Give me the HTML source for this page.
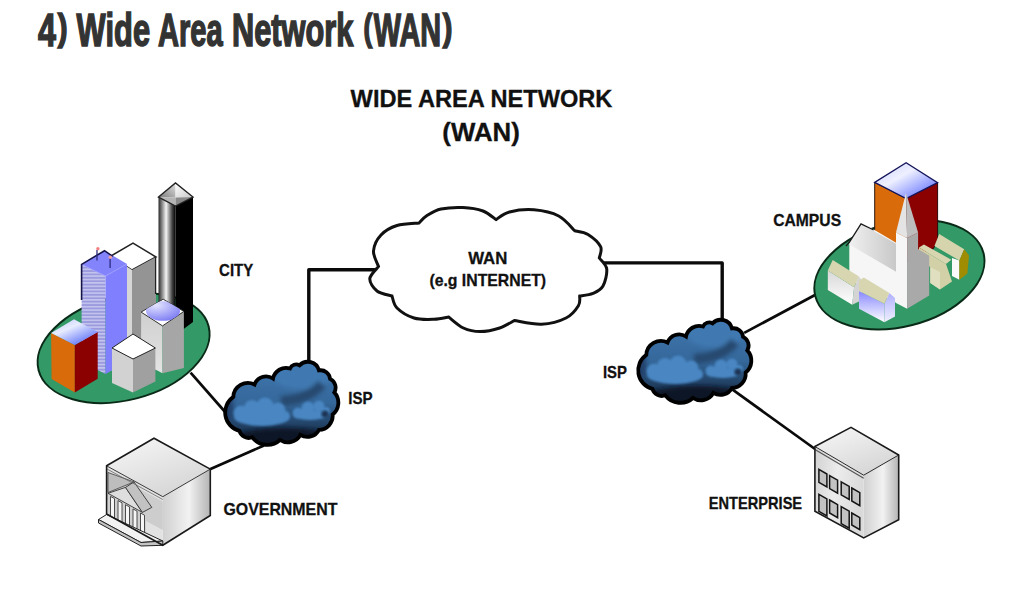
<!DOCTYPE html>
<html><head><meta charset="utf-8">
<style>
html,body{margin:0;padding:0;background:#fff;width:1024px;height:589px;overflow:hidden}
svg{display:block}
text{font-family:"Liberation Sans",sans-serif;font-weight:bold}
</style></head><body>
<svg width="1024" height="589" viewBox="0 0 1024 589">
<defs>
<linearGradient id="ispg" x1="0" y1="0" x2="0" y2="1">
<stop offset="0" stop-color="#4078b0"/><stop offset="0.5" stop-color="#35679a"/><stop offset="1" stop-color="#0f1f33"/>
</linearGradient>
<radialGradient id="blob" cx="0.5" cy="0.5" r="0.5">
<stop offset="0" stop-color="#5a94cc"/><stop offset="0.7" stop-color="#4c86bf"/><stop offset="1" stop-color="#4c86bf" stop-opacity="0"/>
</radialGradient>
<radialGradient id="dark" cx="0.5" cy="0.5" r="0.5">
<stop offset="0" stop-color="#0e1c2c"/><stop offset="1" stop-color="#0e1c2c" stop-opacity="0"/>
</radialGradient>
<filter id="soft" x="-20%" y="-20%" width="140%" height="140%"><feGaussianBlur stdDeviation="0.9"/></filter>
<filter id="soft2" x="-20%" y="-20%" width="140%" height="140%"><feGaussianBlur stdDeviation="2.2"/></filter>
<clipPath id="ispclip"><path d="M233.3,396.9 A14.65,14.65 0 0 1 254.5,384.5 A12.27,12.27 0 0 1 273.0,378.5 A13.38,13.38 0 0 1 290.0,368.5 A6.80,6.80 0 0 1 299.5,365.3 A11.59,11.59 0 0 1 319.0,370.4 A9.48,9.48 0 0 1 330.1,378.9 A9.59,9.59 0 0 1 334.3,392.4 A15.03,15.03 0 0 1 332.6,414.5 A13.88,13.88 0 0 1 319.0,429.8 A13.08,13.08 0 0 1 300.4,434.9 A14.26,14.26 0 0 1 280.0,440.0 A18.87,18.87 0 0 1 252.3,437.3 A9.80,9.80 0 0 1 239.4,430.8 A18.95,18.95 0 0 1 233.3,396.9Z"/></clipPath>
<linearGradient id="blk" x1="0" y1="0" x2="1" y2="0">
<stop offset="0" stop-color="#2a2a2a"/><stop offset="0.45" stop-color="#f4f4f4"/><stop offset="0.8" stop-color="#444"/><stop offset="1" stop-color="#000"/>
</linearGradient>
<linearGradient id="bt1" x1="0" y1="1" x2="1" y2="0">
<stop offset="0" stop-color="#7a7a7a"/><stop offset="1" stop-color="#e0e0e0"/>
</linearGradient>
<linearGradient id="bt2" x1="0" y1="0" x2="1" y2="1">
<stop offset="0" stop-color="#ffffff"/><stop offset="1" stop-color="#c8c8c8"/>
</linearGradient>
<linearGradient id="bluetop" x1="0" y1="0" x2="1" y2="1">
<stop offset="0" stop-color="#ffffff"/><stop offset="1" stop-color="#5a6cff"/>
</linearGradient>
<linearGradient id="govR" x1="0" y1="0" x2="1" y2="0">
<stop offset="0" stop-color="#d0d0d0"/><stop offset="0.55" stop-color="#f2f2f2"/><stop offset="1" stop-color="#b4b4b4"/>
</linearGradient>
<linearGradient id="govT" x1="0" y1="0" x2="0.6" y2="1">
<stop offset="0" stop-color="#f8f8f8"/><stop offset="1" stop-color="#d6d6d6"/>
</linearGradient>
<linearGradient id="govL" x1="0" y1="0" x2="0" y2="1">
<stop offset="0" stop-color="#d8d8d8"/><stop offset="1" stop-color="#f0f0f0"/>
</linearGradient>
<linearGradient id="ctop" x1="0" y1="0" x2="1" y2="1">
<stop offset="0" stop-color="#c8d0ff"/><stop offset="0.4" stop-color="#eef0ff"/><stop offset="1" stop-color="#4a5cff"/>
</linearGradient>
<linearGradient id="roofg" x1="0" y1="0" x2="1" y2="0">
<stop offset="0" stop-color="#f0f0f0"/><stop offset="1" stop-color="#c8c8c8"/>
</linearGradient>
<linearGradient id="whg" x1="0" y1="0" x2="0" y2="1">
<stop offset="0" stop-color="#d8d8d8"/><stop offset="1" stop-color="#ffffff"/>
</linearGradient>
<linearGradient id="bhg" x1="0" y1="0" x2="0" y2="1">
<stop offset="0" stop-color="#8888ff"/><stop offset="1" stop-color="#ffffff"/>
</linearGradient>
<linearGradient id="bhg2" x1="0" y1="0" x2="0" y2="1">
<stop offset="0" stop-color="#b0b0ff"/><stop offset="1" stop-color="#f0f0ff"/>
</linearGradient>
<linearGradient id="entL" x1="0" y1="0" x2="1" y2="0.3">
<stop offset="0" stop-color="#d0d0d0"/><stop offset="0.5" stop-color="#ececec"/><stop offset="1" stop-color="#dadada"/>
</linearGradient>
<pattern id="stripes" x="0" y="268.5" width="10" height="3.4" patternUnits="userSpaceOnUse">
<rect width="10" height="3.4" fill="#9a9ade"/><rect y="0" width="10" height="1.6" fill="#c4c4ee"/>
</pattern>
<radialGradient id="domeg" cx="0.3" cy="0.2" r="0.9">
<stop offset="0" stop-color="#e4e4ff"/><stop offset="1" stop-color="#7878f4"/>
</radialGradient>
<linearGradient id="lfg" x1="0" y1="0" x2="0" y2="1">
<stop offset="0" stop-color="#cfcfcf"/><stop offset="1" stop-color="#e4e4e4"/>
</linearGradient>
<linearGradient id="bluetop2" x1="0.1" y1="0" x2="0.9" y2="1">
<stop offset="0" stop-color="#c0c8ff"/><stop offset="0.35" stop-color="#e8ecff"/><stop offset="1" stop-color="#4058f8"/>
</linearGradient>
</defs>

<!-- connection lines -->
<g stroke="#0a0a0a" fill="none" stroke-linejoin="round">
<polyline points="190.6,372.7 226,413" stroke-width="2.7"/>
<polyline points="209.4,469.4 264,445.5" stroke-width="2.7"/>
<polyline points="308.8,362 308.8,269.8 380,269.8" stroke-width="3.4"/>
<polyline points="598,262.9 722.2,262.9 722.2,320" stroke-width="3.4"/>
<polyline points="744.2,332.9 815,295" stroke-width="2.7"/>
<polyline points="732.6,389.6 815,449" stroke-width="2.7"/>
</g>

<!-- WAN cloud -->
<path d="M378.5,266.5 C377.7,263.9 373.1,256.2 373.5,251.0 C373.9,245.8 377.1,239.2 381.0,235.0 C384.9,230.8 390.7,227.5 397.0,225.5 C403.3,223.5 415.3,223.4 419.0,223.0 C420.3,221.8 423.3,217.8 427.0,215.5 C430.7,213.2 435.0,210.3 441.0,209.0 C447.0,207.7 456.0,207.2 463.0,207.5 C470.0,207.8 477.5,209.0 483.0,211.0 C488.5,213.0 493.8,218.2 496.0,219.6 C498.2,218.3 503.2,213.6 509.5,212.0 C515.8,210.4 525.8,209.1 534.0,209.8 C542.2,210.5 551.9,212.5 558.7,216.0 C565.5,219.5 572.0,228.2 574.7,230.7 C576.9,231.3 583.7,231.7 588.0,234.4 C592.3,237.1 598.7,242.8 600.6,246.7 C602.5,250.6 599.5,256.1 599.3,258.0 C600.5,259.8 606.1,264.1 606.7,268.8 C607.3,273.5 605.3,281.9 603.0,286.0 C600.7,290.1 596.9,291.7 593.0,293.4 C589.1,295.1 581.9,295.6 579.7,296.0 C579.5,297.6 580.7,302.0 578.4,305.7 C576.1,309.4 572.1,314.9 566.0,318.0 C559.9,321.1 550.1,323.8 541.5,324.2 C532.9,324.6 518.9,321.1 514.4,320.5 C511.9,321.8 505.4,326.1 499.7,328.0 C494.0,329.9 486.1,331.6 480.0,331.6 C473.9,331.6 468.6,330.4 463.4,328.0 C458.2,325.6 451.1,318.8 448.6,317.0 C446.2,317.4 439.7,319.1 433.9,319.3 C428.1,319.5 420.1,319.9 414.0,318.0 C407.9,316.1 400.7,311.7 397.0,308.0 C393.3,304.3 392.8,298.0 392.0,296.0 C389.5,295.2 380.7,293.9 377.0,291.0 C373.3,288.1 369.6,282.8 369.8,278.7 C370.1,274.6 377.1,268.5 378.5,266.5Z" fill="#fff" stroke="#111" stroke-width="3"/>

<!-- ISP clouds -->
<g id="isp">
<path d="M233.3,396.9 A14.65,14.65 0 0 1 254.5,384.5 A12.27,12.27 0 0 1 273.0,378.5 A13.38,13.38 0 0 1 290.0,368.5 A6.80,6.80 0 0 1 299.5,365.3 A11.59,11.59 0 0 1 319.0,370.4 A9.48,9.48 0 0 1 330.1,378.9 A9.59,9.59 0 0 1 334.3,392.4 A15.03,15.03 0 0 1 332.6,414.5 A13.88,13.88 0 0 1 319.0,429.8 A13.08,13.08 0 0 1 300.4,434.9 A14.26,14.26 0 0 1 280.0,440.0 A18.87,18.87 0 0 1 252.3,437.3 A9.80,9.80 0 0 1 239.4,430.8 A18.95,18.95 0 0 1 233.3,396.9Z" fill="url(#ispg)"/>
<g clip-path="url(#ispclip)">
<g filter="url(#soft2)">
<ellipse cx="285" cy="443" rx="60" ry="15" fill="#0c1828"/>
<ellipse cx="227" cy="405" rx="6" ry="18" fill="#22406a"/>
<ellipse cx="302" cy="376" rx="28" ry="13" fill="#4179b1"/>
<path d="M281,401 Q308,400 322,384" fill="none" stroke="#25486f" stroke-width="10"/>
</g>
<g filter="url(#soft)" fill="#4886c2">
<ellipse cx="262" cy="417" rx="28" ry="9"/>
<circle cx="241" cy="413" r="7.5"/><circle cx="252" cy="408" r="8"/><circle cx="265" cy="406" r="8.5"/><circle cx="278" cy="410" r="7.5"/><circle cx="285" cy="416" r="5"/>
<ellipse cx="310" cy="415" rx="17" ry="5"/>
<circle cx="298" cy="413" r="5.5"/><circle cx="308" cy="408" r="6.5"/><circle cx="319" cy="406" r="5.5"/><circle cx="326" cy="411" r="4"/>
</g>
<circle cx="325" cy="414" r="3.5" fill="#1d3556" filter="url(#soft)"/>
</g>
<path d="M233.3,396.9 A14.65,14.65 0 0 1 254.5,384.5 A12.27,12.27 0 0 1 273.0,378.5 A13.38,13.38 0 0 1 290.0,368.5 A6.80,6.80 0 0 1 299.5,365.3 A11.59,11.59 0 0 1 319.0,370.4 A9.48,9.48 0 0 1 330.1,378.9 A9.59,9.59 0 0 1 334.3,392.4 A15.03,15.03 0 0 1 332.6,414.5 A13.88,13.88 0 0 1 319.0,429.8 A13.08,13.08 0 0 1 300.4,434.9 A14.26,14.26 0 0 1 280.0,440.0 A18.87,18.87 0 0 1 252.3,437.3 A9.80,9.80 0 0 1 239.4,430.8 A18.95,18.95 0 0 1 233.3,396.9Z" fill="none" stroke="#000" stroke-width="3.8"/>
</g>
<use href="#isp" transform="translate(413,-42)"/>

<!-- CITY -->
<g id="city">
<ellipse cx="123.6" cy="348.2" rx="87.8" ry="51.8" transform="rotate(-14.5 123.6 348.2)" fill="#339966" stroke="#0a2a18" stroke-width="2"/>
<!-- tall white behind -->
<polygon points="111,256 133,243 156,257 132,270" fill="#fff" stroke="#222" stroke-width="1.5"/>
<polygon points="111,256 132,270 132,380 111,370" fill="#d6d6d6"/>
<polygon points="132,270 156,257 156,370 132,380" fill="#949494"/>
<line x1="155.6" y1="257" x2="155.6" y2="294" stroke="#222" stroke-width="1.3"/>
<!-- black tower -->
<polygon points="158.5,197 175.5,206 175.5,335 158.5,320" fill="url(#blk)"/>
<polygon points="175.5,206 193,197 193,322 175.5,335" fill="#000"/>
<polygon points="158.5,197 175.5,183 175.6,197.5" fill="url(#bt1)"/>
<polygon points="175.5,183 193,197 175.6,197.5" fill="url(#bt2)"/>
<polygon points="158.5,197 175.6,197.5 175.5,206" fill="#b4b4b4"/>
<polygon points="175.6,197.5 193,197 175.5,206" fill="#8a8a8a"/>
<polygon points="158.5,197 175.5,183 193,197 175.5,206" fill="none" stroke="#222" stroke-width="1.4"/>
<!-- gray dome building -->
<polygon points="141.1,312.1 162.5,325.9 162.5,373.2 141.1,362" fill="url(#lfg)"/>
<polygon points="162.5,325.9 183.9,311.4 183.9,367.9 162.5,373.2" fill="#a6a6a6"/>
<polygon points="141.1,312.1 163.2,299.2 183.9,311.4 162.5,325.9" fill="#fff" stroke="#333" stroke-width="1"/>
<clipPath id="domeclip"><polygon points="141.1,312.1 163.2,299.2 183.9,311.4 162.5,325.9"/></clipPath><ellipse cx="163" cy="311" rx="17" ry="9.8" fill="url(#domeg)" clip-path="url(#domeclip)"/>
<!-- blue tower -->
<polygon points="81.6,264.4 105.5,276 105.5,374 81.6,362" fill="url(#stripes)"/>
<polygon points="105.5,276 127,264 127,362 105.5,374" fill="#8080ff"/>
<polygon points="81.6,264.4 104.5,250.7 127,264 105.5,276" fill="#8383fc"/>
<polyline points="81.6,264.4 105.5,276 127,264" fill="none" stroke="#a0a0ff" stroke-width="0.8"/>
<polyline points="81.6,300 81.6,264.4 104.5,250.7 112.7,256.3" fill="none" stroke="#14144a" stroke-width="1.6"/>
<line x1="97" y1="250" x2="97" y2="260.5" stroke="#2a2a80" stroke-width="1.3"/>
<line x1="110.1" y1="258" x2="110.1" y2="268" stroke="#2a2a80" stroke-width="1.3"/>
<circle cx="97.9" cy="248.7" r="1.7" fill="#f08080"/>
<circle cx="110.3" cy="257.3" r="1.7" fill="#f0a0a0"/>
<!-- orange building -->
<polygon points="51.1,332.9 74.8,345.1 74.8,392.4 51.6,379" fill="#d96b0b"/>
<polygon points="74.8,345.1 97.7,332.1 97.7,378.7 74.8,392.4" fill="#8b0000"/>
<polygon points="51.1,332.9 74,319.2 97.7,332.1 74.8,345.1" fill="url(#bluetop2)"/>
<!-- small cube -->
<polygon points="112,348 133,359 133,392.6 112,383" fill="#d2d2d2"/>
<polygon points="133,359 155.4,348 155.4,381.4 133,392.6" fill="#a0a0a0"/>
<polygon points="112,348 133,334 155.4,348 133,359" fill="#fff" stroke="#222" stroke-width="1"/>
</g>

<!-- GOVERNMENT -->
<g id="gov">
<polygon points="162.8,496.7 210.3,469.1 210.3,515.5 162.8,545.3" fill="url(#govR)"/>
<polygon points="106.6,465.8 154,438.2 210.3,469.1 162.8,496.7" fill="url(#govT)"/>
<polygon points="106.6,465.8 162.8,496.7 162.8,545.3 106.6,514" fill="#e2e2e2"/>
<polygon points="107,471 162.8,501.5 162.8,530 107,500" fill="#cdcdcd"/>
<polygon points="108,472.5 134,481.9 108,492.5" fill="#bdbdbd" stroke="#444" stroke-width="0.8"/>
<polygon points="108,494 146,515 146,537 108,516" fill="#d0d0d0"/>
<polygon points="110.5,496.4 114.5,498.6 114.5,519.9 110.5,517.8" fill="#f6f6f6" stroke="#3a3a3a" stroke-width="0.9"/>
<polygon points="118.0,500.6 122.0,502.8 122.0,523.8 118.0,521.7" fill="#f6f6f6" stroke="#3a3a3a" stroke-width="0.9"/>
<polygon points="125.5,504.7 129.5,506.9 129.5,527.7 125.5,525.6" fill="#f6f6f6" stroke="#3a3a3a" stroke-width="0.9"/>
<polygon points="133.0,508.9 137.0,511.1 137.0,531.6 133.0,529.5" fill="#f6f6f6" stroke="#3a3a3a" stroke-width="0.9"/>
<polygon points="140.5,513.0 144.5,515.2 144.5,535.5 140.5,533.4" fill="#f6f6f6" stroke="#3a3a3a" stroke-width="0.9"/>
<polygon points="108,493.3 125.5,487.4 142.4,512.4" fill="#dedede" stroke="#333" stroke-width="0.9"/>
<polygon points="125.5,487.4 134,481.9 151.8,507.4 142.4,512.4" fill="#c2c2c2" stroke="#333" stroke-width="0.9"/>
<polygon points="106.6,514.5 98.5,519.5 141,542.5 162.8,541" fill="#f2f2f2" stroke="#222" stroke-width="1"/>
<polygon points="98.5,519.5 98.5,523 141,546 162.8,545.3 162.8,541 141,542.5" fill="#c4c4c4" stroke="#222" stroke-width="1"/>
<polyline points="106.6,465.8 162.8,496.7 210.3,469.1" fill="none" stroke="#3a3a3a" stroke-width="1"/>
<polyline points="107,469 162.8,499.5" fill="none" stroke="#666" stroke-width="0.8"/>
<polygon points="106.6,465.8 154,438.2 210.3,469.1 210.3,515.5 162.8,545.3 106.6,514" fill="none" stroke="#1a1a1a" stroke-width="1.6"/>
</g>

<!-- ENTERPRISE -->
<g id="ent">
<polygon points="863.7,475.2 898.7,455 898.7,519.8 863.7,537.9" fill="url(#govR)"/>
<polygon points="814.9,446.5 851,427.4 898.7,455 863.7,475.2" fill="url(#govT)"/>
<polygon points="814.9,446.5 863.7,475.2 863.7,537.9 814.9,511.3" fill="url(#entL)"/>
<polyline points="814.9,449.5 863.7,478.2" fill="none" stroke="#555" stroke-width="1.2"/>
<polyline points="814.9,446.5 863.7,475.2 898.7,455" fill="none" stroke="#2a2a2a" stroke-width="1"/>
<polygon points="818.9,469.4 826.9,474.0 826.9,487.0 818.9,482.4" fill="#c2c2c2" stroke="#141414" stroke-width="1.5"/>
<polygon points="829.6,475.6 837.6,480.2 837.6,493.2 829.6,488.6" fill="#c2c2c2" stroke="#141414" stroke-width="1.5"/>
<polygon points="841.2,481.8 849.2,486.4 849.2,499.4 841.2,494.8" fill="#c2c2c2" stroke="#141414" stroke-width="1.5"/>
<polygon points="851.8,488.0 859.8,492.6 859.8,505.6 851.8,501.0" fill="#c2c2c2" stroke="#141414" stroke-width="1.5"/>
<polygon points="818.9,494.3 826.9,498.9 826.9,515.9 818.9,511.3" fill="#c2c2c2" stroke="#141414" stroke-width="1.5"/>
<polygon points="829.6,500.0 837.6,504.6 837.6,517.6 829.6,513.0" fill="#c2c2c2" stroke="#141414" stroke-width="1.5"/>
<polygon points="841.2,506.6 849.2,511.2 849.2,528.2 841.2,523.6" fill="#c2c2c2" stroke="#141414" stroke-width="1.5"/>
<polygon points="851.8,513.0 859.8,517.6 859.8,529.6 851.8,525.0" fill="#c2c2c2" stroke="#141414" stroke-width="1.5"/>
<polygon points="814.9,446.5 851,427.4 898.7,455 898.7,519.8 863.7,537.9 814.9,511.3" fill="none" stroke="#1a1a1a" stroke-width="1.6"/>
</g>

<!-- CAMPUS -->
<g id="campus">
<ellipse cx="899.4" cy="274.6" rx="86.8" ry="52" transform="rotate(-14.4 899.4 274.6)" fill="#339966" stroke="#0a2a18" stroke-width="2"/>
<!-- tower -->
<polygon points="874.7,182.4 906.1,198.5 906.1,262 874.7,248" fill="#d96b0b" stroke="#2a1a10" stroke-width="1"/>
<polygon points="906.1,198.5 937.6,182.7 937.6,240 933.5,248.5 906.1,262" fill="#8b0000" stroke="#2a0a0a" stroke-width="1"/>
<polygon points="874.7,182.4 906.1,162.7 937.6,182.7 906.1,198.5" fill="url(#ctop)" stroke="#14145a" stroke-width="1.3"/>
<!-- nave -->
<polygon points="849.3,242.3 861,223.8 873.7,229.6 896.5,243 896.5,303 849.3,280" fill="#f6f6f6"/>
<polygon points="849.3,243.5 861,223.8 896.5,244 896.5,272 849.3,244.5" fill="url(#roofg)"/>
<polyline points="846,246 849.3,242.3 861,223.8 873.7,230" fill="none" stroke="#1a1a1a" stroke-width="1.3"/>
<!-- right houses -->
<polygon points="934.4,246 939.2,233.9 964.2,249.2 959.4,260.5" fill="#d6d4ac"/>
<polygon points="952,258 959.4,260.5 959.4,279.8 952,276" fill="#fafafa"/>
<polygon points="959.4,260.5 964.2,249.2 969,255.6 967.4,273.4 959.4,279.8" fill="#a08c00"/>
<polygon points="919,247.6 923.9,244.4 951.3,259.7 946,264" fill="#d8d6b0"/>
<polygon points="919,247.6 946,264 952,281.5 940,289.5 930.3,283 930.3,266.9 919,260" fill="#d2d0a6"/>
<polygon points="930.3,266.9 940,272 940,289.5 930.3,283" fill="#e0dfc0"/>
<!-- spire tower -->
<polygon points="896,232.5 907.1,238 907.1,308.7 896,303" fill="#f6f6f6"/>
<polygon points="907.1,238 918.1,232.5 918.1,249 929.2,255.7 929.2,295.5 907.1,308.7" fill="#a9a9a9"/>
<polygon points="906,192.7 896,232.5 907.1,238" fill="#e4e4e4"/>
<polygon points="906,192.7 907.1,238 918.1,232.5" fill="#bdbdbd"/>
<!-- left house -->
<polygon points="827.8,270.6 854.1,287.2 852.2,304.8 827.8,290.1" fill="url(#whg)"/>
<polygon points="854.1,287.2 859,276.5 862,281 862,300 852.2,304.8" fill="#d4d4d4"/>
<polygon points="827.8,270.6 832.7,259.9 859,276.5 854.1,287.2" fill="#d8d6b0"/>
<!-- blue house -->
<polygon points="859,291 884.4,303.8 884.4,322.3 859,308.7" fill="url(#bhg)"/>
<polygon points="884.4,303.8 889.3,293 895,298 895,316.5 884.4,322.3" fill="url(#bhg2)"/>
<polygon points="859,280.4 863.9,277.4 889.3,293 884.4,303.8 859,291" fill="#d8d6b0"/>
</g>

<text x="37.93" y="46.18" font-size="47.07" textLength="17.96" lengthAdjust="spacingAndGlyphs" fill="#333" stroke="#333" stroke-width="1.6">4</text>
<text x="57.87" y="39.68" font-size="36.94" textLength="9.74" lengthAdjust="spacingAndGlyphs" fill="#333" stroke="#333" stroke-width="1.6">)</text>
<text x="76.61" y="46.18" font-size="45.50" textLength="73.44" lengthAdjust="spacingAndGlyphs" fill="#333" stroke="#333" stroke-width="1.6">Wide</text>
<text x="157.89" y="46.18" font-size="46.34" textLength="64.69" lengthAdjust="spacingAndGlyphs" fill="#333" stroke="#333" stroke-width="1.6">Area</text>
<text x="232.04" y="46.18" font-size="45.50" textLength="121.38" lengthAdjust="spacingAndGlyphs" fill="#333" stroke="#333" stroke-width="1.6">Network</text>
<text x="363.38" y="39.68" font-size="36.94" textLength="8.73" lengthAdjust="spacingAndGlyphs" fill="#333" stroke="#333" stroke-width="1.6">(</text>
<text x="373.83" y="46.18" font-size="46.39" textLength="67.27" lengthAdjust="spacingAndGlyphs" fill="#333" stroke="#333" stroke-width="1.6">WAN</text>
<text x="442.79" y="39.68" font-size="36.94" textLength="9.60" lengthAdjust="spacingAndGlyphs" fill="#333" stroke="#333" stroke-width="1.6">)</text>
<text x="350.61" y="106.98" font-size="23.73" textLength="261.80" lengthAdjust="spacingAndGlyphs" fill="#111" stroke="#111" stroke-width="0.3">WIDE AREA NETWORK</text>
<text x="442.39" y="140.98" font-size="24.93" textLength="77.44" lengthAdjust="spacingAndGlyphs" fill="#111" stroke="#111" stroke-width="0.3">(WAN)</text>
<text x="219.11" y="275.62" font-size="16.60" textLength="34.01" lengthAdjust="spacingAndGlyphs" fill="#111" stroke="#111" stroke-width="0.3">CITY</text>
<text x="348.28" y="404.30" font-size="16.60" textLength="24.33" lengthAdjust="spacingAndGlyphs" fill="#111" stroke="#111" stroke-width="0.3">ISP</text>
<text x="468.22" y="264.40" font-size="16.60" textLength="39.13" lengthAdjust="spacingAndGlyphs" fill="#111" stroke="#111" stroke-width="0.3">WAN</text>
<text x="429.38" y="286.33" font-size="16.60" textLength="116.75" lengthAdjust="spacingAndGlyphs" fill="#111" stroke="#111" stroke-width="0.3">(e.g INTERNET)</text>
<text x="773.20" y="225.70" font-size="16.60" textLength="67.90" lengthAdjust="spacingAndGlyphs" fill="#111" stroke="#111" stroke-width="0.3">CAMPUS</text>
<text x="602.90" y="378.22" font-size="16.60" textLength="24.02" lengthAdjust="spacingAndGlyphs" fill="#111" stroke="#111" stroke-width="0.3">ISP</text>
<text x="223.45" y="515.10" font-size="16.60" textLength="113.95" lengthAdjust="spacingAndGlyphs" fill="#111" stroke="#111" stroke-width="0.3">GOVERNMENT</text>
<text x="708.83" y="508.80" font-size="16.60" textLength="93.28" lengthAdjust="spacingAndGlyphs" fill="#111" stroke="#111" stroke-width="0.3">ENTERPRISE</text>
</svg>
</body></html>
